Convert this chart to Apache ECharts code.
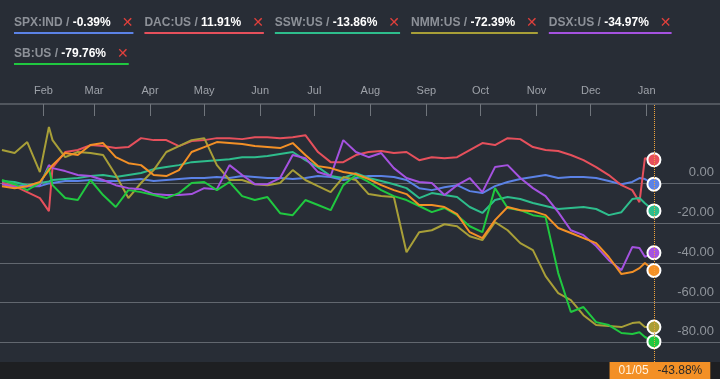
<!DOCTYPE html>
<html><head><meta charset="utf-8">
<script src="https://cdn.jsdelivr.net/npm/echarts@6/dist/echarts.min.js"></script>
<style>html,body{margin:0;padding:0;background:#282d36;overflow:hidden}#c{width:720px;height:379px}</style>
</head><body><div id="c"></div>
<script>
// ---- data ----
const dates = ['2015-01-09','2015-01-16','2015-01-23','2015-01-30','2015-02-04','2015-02-06','2015-02-13','2015-02-20','2015-02-27',
'2015-03-06','2015-03-13','2015-03-20','2015-03-27','2015-04-03','2015-04-10','2015-04-17','2015-04-24',
'2015-05-01','2015-05-08','2015-05-15','2015-05-22','2015-05-29','2015-06-05','2015-06-12','2015-06-19','2015-06-26',
'2015-07-03','2015-07-10','2015-07-17','2015-07-24','2015-07-31','2015-08-07','2015-08-14','2015-08-21','2015-08-28',
'2015-09-04','2015-09-11','2015-09-18','2015-09-25','2015-10-02','2015-10-09','2015-10-16','2015-10-23','2015-10-30',
'2015-11-06','2015-11-13','2015-11-20','2015-11-27','2015-12-04','2015-12-11','2015-12-18','2015-12-24','2015-12-28','2015-12-31','2016-01-05'];
const spx = [0.2,-0.9,-1.4,-1.4,0.0,0.2,1.2,1.2,1.7,1.2,1.2,1.7,2.2,1.2,1.7,2.2,2.7,2.7,3.2,2.7,3.7,3.2,2.7,2.7,2.2,2.7,
3.7,3.2,1.7,2.7,3.7,3.7,3.2,1.7,-2.4,-3.4,-1.9,-0.9,-3.9,-4.9,-1.4,0.7,2.2,3.2,4.2,2.7,3.2,3.2,2.7,1.2,-0.4,0.7,2.7,2.2,-0.39];
const dac = [0.2,-1.4,-4.4,-7.4,-14.0,8.0,15.8,16.8,19.3,18.8,17.8,18.3,22.8,21.8,21.8,18.8,21.3,21.8,22.8,22.8,22.3,23.3,23.3,22.8,23.3,24.3,
15.8,10.7,10.7,14.3,15.8,16.3,15.3,15.8,11.7,13.2,12.7,13.2,16.8,20.3,19.3,22.8,22.3,18.3,16.8,16.3,14.3,11.7,8.2,4.2,-0.9,-3.4,-9.5,12.7,11.91];
const ssw = [1.2,0.7,-0.9,0.2,1.0,1.7,2.2,2.7,3.7,4.2,3.2,4.2,5.2,7.2,8.2,9.2,10.7,11.2,11.7,12.2,13.2,13.2,13.8,14.8,15.8,11.7,
8.2,3.7,2.7,5.2,2.7,1.2,-0.4,-2.4,-7.4,-4.9,-5.9,-6.9,-11.9,-14.9,-8.4,-6.9,-7.9,-9.9,-11.4,-12.9,-12.4,-11.9,-12.9,-16.0,-14.5,-7.9,-7.4,-10.0,-13.86];
const nmm = [16.8,15.3,20.8,5.7,28.4,21.8,13.2,15.8,15.3,14.3,4.2,-7.4,0.2,6.7,15.8,18.8,21.8,22.8,9.2,1.7,1.7,-0.4,-0.9,0.2,6.7,1.7,
-1.4,-4.4,3.2,1.7,-5.4,-6.4,-6.9,-34.7,-24.6,-23.6,-20.6,-21.6,-26.6,-28.6,-19.5,-23.6,-30.1,-33.6,-46.7,-55.3,-58.8,-66.4,-71.4,-71.9,-72.4,-70.4,-70.0,-72.4,-72.39];
const dsx = [-0.4,-1.9,-1.4,-0.9,9.2,7.7,6.2,4.2,3.7,1.7,-0.9,-2.4,-2.9,-5.4,-5.9,-5.9,-5.4,-2.4,-2.9,9.2,4.2,-0.4,-0.4,2.7,14.3,12.7,
5.7,3.7,21.8,15.8,13.2,15.3,7.7,2.7,0.7,0.2,-5.9,-0.9,2.7,-4.4,8.2,9.2,2.7,-2.4,-6.4,-14.5,-23.6,-26.1,-31.6,-38.7,-43.7,-32.1,-32.6,-37.0,-34.97];
const sb = [1.7,-0.4,-3.4,0.2,7.7,-0.9,-7.4,-8.4,1.7,-5.9,-11.9,-3.4,-4.4,-5.9,-7.4,-4.9,0.2,0.7,-3.4,0.7,-6.4,-8.4,-6.9,-15.0,-16.0,-8.4,
-10.9,-13.5,-0.9,4.2,0.7,-3.4,-6.4,-8.4,-11.4,-14.5,-12.4,-16.0,-21.6,-24.6,-2.4,-12.4,-13.5,-16.0,-17.0,-45.2,-64.8,-62.3,-69.9,-71.4,-75.4,-75.9,-75.0,-77.4,-79.76];
const main = [-1.4,-2.4,-1.4,0.7,6.7,9.2,15.3,14.3,19.3,20.3,13.2,10.2,9.2,4.2,3.7,6.7,15.8,18.3,20.8,20.3,19.8,18.8,18.3,17.8,20.3,14.3,
8.7,7.7,5.7,4.7,2.2,-0.9,-3.4,-5.4,-10.9,-10.9,-11.9,-15.5,-24.6,-27.6,-18.5,-11.9,-13.5,-14.0,-16.0,-22.5,-25.0,-27.6,-30.1,-37.1,-45.7,-44.7,-42.7,-40.1,-43.88];

const legendNames = ['SPX:IND','DAC:US','SSW:US','NMM:US','DSX:US','SB:US'];
const legendValues = ['-0.39%','11.91%','-13.86%','-72.39%','-34.97%','-79.76%'];
const legendColors = ['#5b82e6','#e6505c','#2ebd8c','#a89f38','#a552e0','#20c840'];
const monthTicks = ['2015-02-01','2015-03-01','2015-04-01','2015-05-01','2015-06-01','2015-07-01','2015-08-01',
'2015-09-01','2015-10-01','2015-11-01','2015-12-01','2016-01-01'];
const monthNames = ['Jan','Feb','Mar','Apr','May','Jun','Jul','Aug','Sep','Oct','Nov','Dec'];
const gridValues = [0,-20,-40,-60,-80];
const hoverLabel = '01/05';
const hoverValue = '-43.88%';
const mainColor = '#f39026';

// ---- chart ----
const chart = echarts.init(document.getElementById('c'), null, {renderer:'canvas'});
const FONT = '"Liberation Sans", Arial, sans-serif';
function ts(s){ const p = s.split('-').map(Number); return new Date(p[0], p[1]-1, p[2]).getTime(); }
const tickTimes = monthTicks.map(ts);
const lastTick = tickTimes[tickTimes.length-1];

function mkSeries(name, vals, color, z) {
  return {
    type:'line', name, z, color, animation:false, showSymbol:true, symbol:'none', connectNulls:true,
    lineStyle:{width:2, color}, emphasis:{disabled:true},
    data: vals.map((v,i) => i === vals.length-1
      ? {value:[ts(dates[i]), v], symbol:'circle', symbolSize:13, itemStyle:{color, borderColor:'#ffffff', borderWidth:2}}
      : [ts(dates[i]), v])
  };
}
const seriesList = [
  mkSeries(legendNames[0], spx, legendColors[0], 2),
  mkSeries(legendNames[1], dac, legendColors[1], 2),
  mkSeries(legendNames[2], ssw, legendColors[2], 2),
  mkSeries(legendNames[3], nmm, legendColors[3], 2),
  mkSeries(legendNames[4], dsx, legendColors[4], 2),
  mkSeries(legendNames[5], sb, legendColors[5], 2),
  mkSeries('main', main, mainColor, 3)
];
seriesList[6].markLine = {
  silent:true, symbol:'none', animation:false,
  lineStyle:{type:'dotted', color:'#f2a43a', width:1},
  label:{show:true, position:'start', distance:0, offset:[6,0],
    formatter:'{d|' + hoverLabel + '}{v|' + hoverValue + '}',
    backgroundColor:mainColor, padding:[3,8,3,9],
    rich:{d:{color:'#fff2e0', fontSize:12, fontFamily:FONT, padding:[0,9,0,0]}, v:{color:'#2a2a2a', fontSize:12, fontFamily:FONT}}},
  data:[{xAxis: ts(dates[dates.length-1])}]
};

// split line colours: only at the grid values
const yMin = -90, yMax = 40, yStep = 10;
const splitColors = [];
for (let v = yMin; v <= yMax; v += yStep) splitColors.push(gridValues.indexOf(v) >= 0 ? '#62676f' : 'rgba(0,0,0,0)');

// legend as graphics
const cv = document.createElement('canvas').getContext('2d');
function tw(t, f){ cv.font = f; return cv.measureText(t).width; }
const nameFont = 'bold 12px ' + FONT;
const xFont = 'bold 14px "DejaVu Sans", sans-serif';
const graphics = [];
let lx = 14, row = 0;
const rowY = [23, 54];
legendNames.forEach((n, i) => {
  const nameTxt = n + ' / ';
  const wn = tw(nameTxt, nameFont), wv = tw(legendValues[i], nameFont), wx = tw('✕', xFont);
  const w = wn + wv + 11 + wx;
  if (lx + w > 706) { row++; lx = 14; }
  const y = rowY[row];
  graphics.push({type:'text', x:lx, y:y, style:{text:nameTxt, fill:'#8d9198', font:nameFont, verticalAlign:'middle'}});
  graphics.push({type:'text', x:lx+wn, y:y, style:{text:legendValues[i], fill:'#ffffff', font:nameFont, verticalAlign:'middle'}});
  graphics.push({type:'text', x:lx+wn+wv+11, y:y, style:{text:'✕', fill:'#e0403c', font:xFont, verticalAlign:'middle'}});
  graphics.push({type:'rect', shape:{x:lx, y:y+9, width:w, height:2}, style:{fill:legendColors[i]}});
  lx += w + 11;
});
graphics.push({type:'rect', z:-1, shape:{x:0, y:362, width:720, height:17}, style:{fill:'#1e1f22'}});

chart.setOption({
  backgroundColor:'#282d36',
  animation:false,
  textStyle:{fontFamily:FONT},
  grid:{left:0, right:0, top:104, bottom:17, containLabel:false},
  graphic: graphics,
  xAxis:{
    type:'time', position:'top',
    min: new Date(2015,0,7,22).getTime(), max: new Date(2016,1,10,14).getTime(),
    minInterval: 28*864e5, maxInterval: 31*864e5,
    axisLine:{show:true, onZero:false, lineStyle:{color:'#5f656d', width:1.5}},
    axisTick:{show:true, inside:true, length:12, customValues: tickTimes, lineStyle:{color:'#70757c', width:1}},
    axisLabel:{color:'#9ea2a9', fontSize:11, margin:8, showMinLabel:false, showMaxLabel:false,
      formatter:(val)=> (val >= tickTimes[0] - 864e5 && val <= lastTick + 864e5) ? monthNames[new Date(val).getMonth()] : ''},
    splitLine:{show:false}
  },
  yAxis:{
    type:'value', position:'right', min:yMin, max:yMax, interval:yStep,
    axisLine:{show:false}, axisTick:{show:false},
    axisLabel:{inside:true, margin:6, color:'#8f949b', fontSize:13, verticalAlign:'bottom', padding:[0,0,4,0],
      formatter:(v)=> gridValues.indexOf(v) >= 0 ? v.toFixed(2) : ''},
    splitLine:{show:true, lineStyle:{color:splitColors, width:1}}
  },
  series: seriesList
});
</script></body></html>
